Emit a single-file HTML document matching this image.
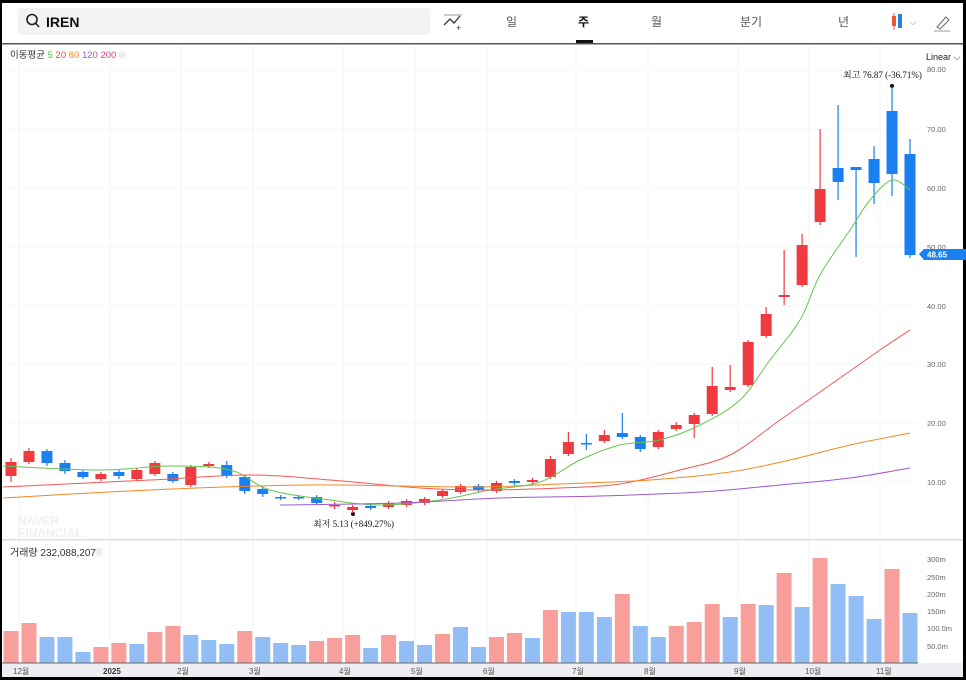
<!DOCTYPE html><html><head><meta charset="utf-8"><style>
body{margin:0;background:#000;width:966px;height:680px;overflow:hidden;font-family:"Liberation Sans","Noto Sans CJK KR",sans-serif}
#f{position:absolute;left:2px;top:3px;width:961px;height:674px;background:#fff;overflow:hidden}
svg{position:absolute;left:0;top:0}
</style></head><body><div id="f"></div>
<svg id="s" width="966" height="680" xmlns="http://www.w3.org/2000/svg" font-family="Liberation Sans, Noto Sans CJK KR, sans-serif">
<rect x="18" y="8" width="412" height="27" rx="4" fill="#f2f3f5"/>
<circle cx="32" cy="19.5" r="5" fill="none" stroke="#222" stroke-width="1.6"/><line x1="35.5" y1="23" x2="39" y2="27" stroke="#222" stroke-width="1.6"/>
<text x="46" y="27" font-size="14" font-weight="bold" fill="#111">IREN</text>
<path d="M444 25 L450 19 L454 23 L460 16" fill="none" stroke="#333" stroke-width="1.3"/><line x1="444" y1="15" x2="462" y2="15" stroke="#999"/><text x="456" y="31" font-size="9" fill="#333">+</text>
<g font-size="12" fill="#555"><text x="506" y="26">일</text><text x="578" y="26" fill="#111" font-weight="bold">주</text><text x="651" y="26">월</text><text x="740" y="26">분기</text><text x="838" y="26">년</text></g>
<rect x="576" y="40" width="17" height="3" fill="#111"/>
<rect x="892" y="16" width="4" height="10" fill="#e53"/><rect x="898" y="14" width="4" height="14" fill="#2a7de1"/><line x1="894" y1="13" x2="894" y2="30" stroke="#e53"/><text x="910" y="25" font-size="8" fill="#888">⌵</text>
<path d="M937 27 L946 17 L949 20 L940 29 Z" fill="none" stroke="#666"/><line x1="934" y1="31" x2="950" y2="31" stroke="#999"/>
<rect x="2" y="43" width="961" height="1.5" fill="#555"/>
<g id="grid"></g>
<text x="10" y="58" font-size="9.5" fill="#333">이동평균 <tspan fill="#5cbf48">5</tspan> <tspan fill="#f0483e">20</tspan> <tspan fill="#f08a24">60</tspan> <tspan fill="#9b59d0">120</tspan> <tspan fill="#e0407a">200</tspan></text>
<circle cx="122" cy="55" r="4" fill="#eee"/>
<text x="926" y="60" font-size="9" fill="#222">Linear ⌵</text>
<g font-size="7.5" fill="#666"><text x="927" y="72">80.00</text><text x="927" y="132">70.00</text><text x="927" y="191">60.00</text><text x="927" y="250">50.00</text><text x="927" y="309">40.00</text><text x="927" y="367">30.00</text><text x="927" y="426">20.00</text><text x="927" y="485">10.00</text>
<text x="927" y="562">300m</text><text x="927" y="580">250m</text><text x="927" y="597">200m</text><text x="927" y="614">150m</text><text x="927" y="631">100.0m</text><text x="927" y="649">50.0m</text></g>
<path d="M919 254 L924 249 L966 249 L966 260 L924 260 Z" fill="#1a82f0"/><text x="927" y="257.5" font-size="8" fill="#fff" font-weight="bold">48.65</text>
<text x="843" y="78" font-size="9" fill="#111" font-family="Liberation Serif, Noto Serif CJK SC, serif">최고  76.87 (-36.71%)</text><circle cx="892" cy="86" r="2" fill="#111"/>
<text x="313" y="527" font-size="9" fill="#111" font-family="Liberation Serif, Noto Serif CJK SC, serif">최저  5.13 (+849.27%)</text><circle cx="353" cy="514" r="2" fill="#111"/>
<text x="18" y="525" font-size="12" font-weight="bold" fill="#eef0f3">NAVER</text><text x="18" y="529" font-size="12" font-weight="bold" fill="#eef0f3" dy="8">FINANCIAL</text>
<rect x="2" y="539" width="961" height="1.5" fill="#ddd"/>
<text x="10" y="556" font-size="10" fill="#333">거래량 232,088,207</text><circle cx="99" cy="552" r="4" fill="#eee"/>
<g id="c"></g>
<rect x="2" y="663" width="961" height="14" fill="#eceef1"/><line x1="2" y1="663" x2="918" y2="663" stroke="#666"/>
<g font-size="8" fill="#555"><text x="13" y="674">12월</text><text x="103" y="674" font-weight="bold" fill="#333">2025</text><text x="177" y="674">2월</text><text x="249" y="674">3월</text><text x="339" y="674">4월</text><text x="411" y="674">5월</text><text x="483" y="674">6월</text><text x="572" y="674">7월</text><text x="644" y="674">8월</text><text x="734" y="674">9월</text><text x="805" y="674">10월</text><text x="876" y="674">11월</text></g>
</svg>
<script>
var NS="http://www.w3.org/2000/svg",g=document.getElementById('c'),gr=document.getElementById('grid');
function el(t,a,p){var e=document.createElementNS(NS,t);for(var k in a)e.setAttribute(k,a[k]);(p||g).appendChild(e);return e}
[19,110,181,253,343,415,487,576,648,738,809,880].forEach(function(x){el('line',{x1:x,y1:45,x2:x,y2:663,stroke:'#f3f3f3'},gr)});
[70,129,188,247,306,364,423,482].forEach(function(y){el('line',{x1:3,y1:y,x2:918,y2:y,stroke:'#f7f7f7'},gr)});
var C=[['r',462,476,458,482],['r',451,462,448,464],['b',451,463,449,466],['b',463,471,460,474],['b',472,477,470,479],['r',474,479,472,481],['b',472,476,469,479],['r',470,479,468,481],['r',463,474,461,476],['b',474,481,472,483],['r',467,485,465,487],['r',464,466,462,468],['b',465,476,461,478],['b',477,491,475,494],['b',489,494,487,497],['b',497,498,495,500],['b',497,498,495,500],['b',497,503,495,505],['r',505,506,502,509],['r',507,510,505,513],['b',506,508,504,510],['r',503,507,501,509],['r',501,505,499,507],['r',499,503,497,505],['r',491,496,489,498],['r',486,492,484,494],['b',486,490,484,492],['r',483,491,481,493],['b',481,483,479,485],['r',480,482,478,484],['r',459,477,456,479],['r',442,454,432,456],['b',443,444,434,450],['r',435,441,430,443],['b',433,437,413,439],['b',437,449,435,452],['r',432,447,430,449],['r',425,429,422,431],['r',415,424,413,438],['r',386,414,367,416],['r',387,390,365,392],['r',342,385,340,387],['r',314,336,307,338],['r',295,297,250,305],['r',245,285,234,287],['r',189,222,129,225],['b',168,182,105,200],['b',167,170,167,257],['b',159,183,146,204],['b',111,174,87,196],['b',154,255,139,258]];
var V=[631,623,637,637,652,647,643,644,632,626,635,640,644,631,637,643,645,641,638,635,648,635,641,645,634,627,647,637,633,638,610,612,612,617,594,626,637,626,622,604,617,604,605,573,607,558,584,596,619,569,613];
var VC='rrbbbrrbrrbbbrbbbrrrbrbbrbbrrbrbbbrbbrrrbrbrbrbbbrb';
for(var i=0;i<51;i++){var x=11+i*17.98,c=C[i],col=c[0]=='r'?'#ef3b3f':'#1a7ff0';
 el('line',{x1:x,y1:c[3],x2:x,y2:c[4],stroke:col,'stroke-width':1.2});
 el('rect',{x:x-5.5,y:c[1],width:11,height:Math.max(1.5,c[2]-c[1]),fill:col});
 el('rect',{x:x-7.5,y:V[i],width:15,height:663-V[i],fill:VC[i]=='r'?'#f89f9c':'#93bef5'});}
function pl(s,col){var p=s.split(' ').map(function(q){return q.split(',').map(Number)});
 var d='M'+p[0][0]+','+p[0][1];
 for(var i=0;i<p.length-1;i++){var p0=p[i-1]||p[i],p1=p[i],p2=p[i+1],p3=p[i+2]||p2;
  d+=' C'+(p1[0]+(p2[0]-p0[0])/6)+','+(p1[1]+(p2[1]-p0[1])/6)+' '+(p2[0]-(p3[0]-p1[0])/6)+','+(p2[1]-(p3[1]-p1[1])/6)+' '+p2[0]+','+p2[1];}
 el('path',{d:d,fill:'none',stroke:col,'stroke-width':1});}
pl('3,466 100,470 170,466 230,470 270,490 330,500 380,505 440,500 490,490 540,482 580,460 620,445 660,440 700,425 740,400 770,360 800,320 820,275 850,230 870,200 892,180 910,190','#66c552');
pl('3,487 150,480 250,475 330,480 420,488 480,490 560,488 620,484 680,470 730,455 780,420 830,385 880,350 910,330','#f05a55');
pl('3,498 150,490 300,485 400,486 480,487 560,484 650,480 730,472 790,460 850,445 910,433','#f08a24');
pl('280,505 400,503 500,498 600,496 700,492 780,485 850,478 910,468','#9b59d0');
</script></body></html>
